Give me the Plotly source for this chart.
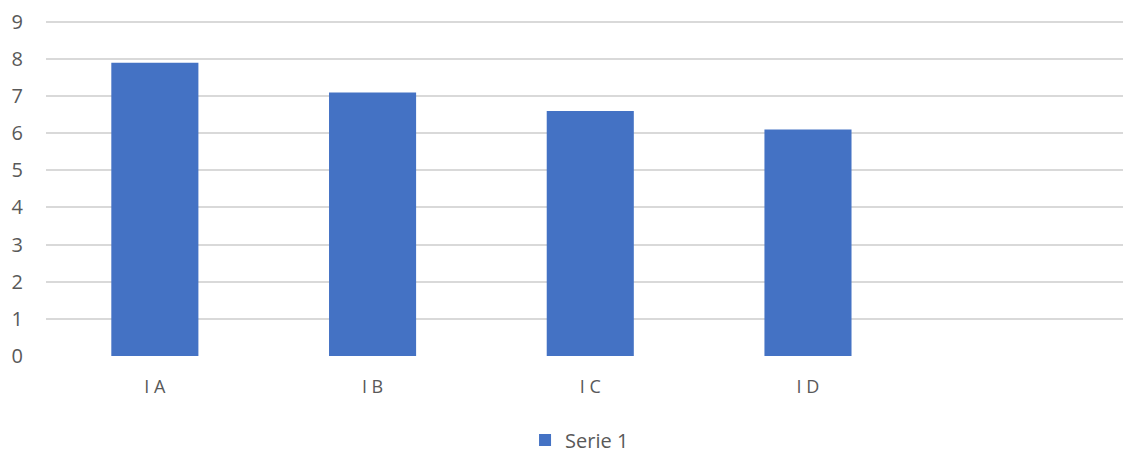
import plotly.graph_objects as go

categories = ["I A", "I B", "I C", "I D"]
values = [7.9, 7.1, 6.6, 6.1]
series_name = "Serie 1"
y_ticks = list(range(0, 10))

positions = list(range(len(categories)))

fig = go.Figure()
fig.add_trace(go.Bar(
    x=positions, y=values, name=series_name,
    marker=dict(color="#4472C4", line=dict(width=0)),
    width=0.4, showlegend=True,
))

# the photographed page appears slightly compressed vertically, so lay out a bit taller
W, H = 1123, 460
left, right, top, bottom = 46, 0, 20, 97
fig.update_layout(
    width=W, height=H,
    margin=dict(l=left, r=right, t=top, b=bottom, pad=0),
    paper_bgcolor="white", plot_bgcolor="white",
    font=dict(family="Open Sans, Carlito, Calibri, sans-serif", color="#595959", size=18),
    showlegend=True,
    legend=dict(orientation="h", x=0.4954, xanchor="center", y=-0.25, yanchor="middle",
                font=dict(size=20, color="#595959"), itemwidth=30),
)
fig.update_xaxes(
    range=[-0.5, 4.447], tickvals=positions, ticktext=categories,
    showgrid=False, zeroline=False, showline=False, ticks="",
    ticklabelstandoff=18, tickfont=dict(size=18),
)
fig.update_yaxes(
    range=[0, 9.05], tickvals=y_ticks, showgrid=True, gridcolor="#d9d9d9", gridwidth=1.5,
    zeroline=False, showline=False, ticks="", ticklabelstandoff=22, tickfont=dict(size=20),
)
fig.write_html(
    "out.html",
    config={"displayModeBar": False},
    post_script=(
        "var s=document.documentElement.style;s.margin='0';s.padding='0';s.overflow='hidden';"
        "var b=document.body.style;b.margin='0';b.padding='0';b.overflow='hidden';"
    ),
)
